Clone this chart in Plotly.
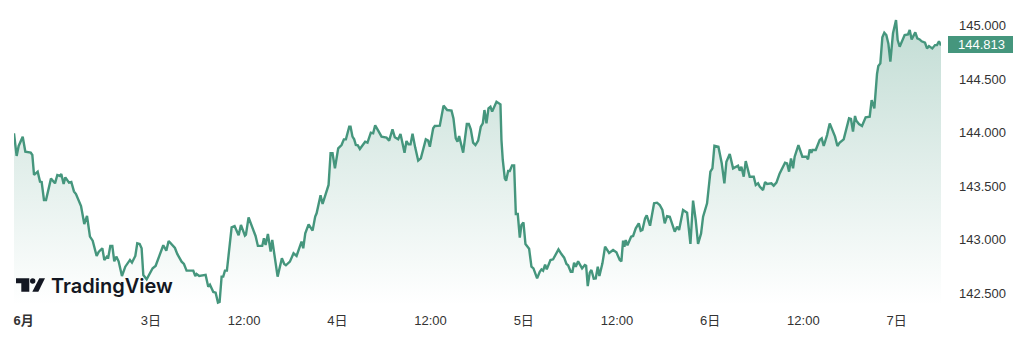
import plotly.graph_objects as go

hours = [-17.63,-17.29,-17.03,-16.51,-16.17,-15.48,-15.27,-15.05,-14.58,-14.28,-14.07,-13.77,-13.51,-12.87,-12.35,-12.05,-11.71,-11.54,-11.24,-11.02,
-10.55,-10.25,-9.91,-9.65,-9.00,-8.58,-8.23,-7.85,-7.50,-6.99,-6.73,-6.26,-6.00,-5.66,-5.49,-5.23,-4.97,-4.72,-4.46,-4.16,
-3.73,-3.30,-2.70,-2.44,-2.01,-1.76,-1.45,-1.20,-0.98,-0.55,0.22,0.60,1.59,1.98,2.28,3.09,3.39,3.95,4.25,4.59,
5.45,5.71,5.88,6.22,7.04,7.38,7.60,8.03,8.33,8.63,8.84,9.10,9.31,9.53,9.78,10.39,10.77,11.29,11.59,12.10,
12.23,12.57,13.47,13.77,14.33,14.55,14.76,15.06,15.41,15.62,16.31,16.86,17.16,17.38,17.89,18.36,18.75,19.39,19.61,19.87,
20.30,20.81,21.15,21.33,21.84,22.10,22.87,23.13,23.38,23.69,24.11,24.54,24.84,25.10,25.53,25.70,25.95,26.17,26.38,26.64,
26.90,27.11,27.58,27.88,28.31,28.61,28.87,29.26,29.69,30.33,30.67,31.10,31.40,31.83,32.13,32.39,32.65,32.90,33.16,33.42,
33.68,34.02,34.41,34.75,35.39,35.69,35.91,36.34,36.55,37.19,37.67,38.14,38.70,38.95,39.25,39.47,39.68,40.20,40.67,40.93,
41.18,41.48,41.78,42.13,42.47,42.73,42.94,43.20,43.46,43.71,43.93,44.49,45.00,45.13,45.30,45.56,45.73,45.99,46.20,46.50,
46.76,46.98,47.23,47.49,47.70,47.96,48.22,48.69,48.99,49.25,49.72,50.06,50.28,50.49,50.75,50.96,51.44,51.78,52.47,52.85,
53.20,53.50,53.71,54.05,54.27,54.48,54.70,55.00,55.51,55.86,56.03,56.24,56.50,56.71,57.01,57.27,57.53,57.74,58.13,58.47,
58.99,59.50,59.93,60.36,60.57,60.79,60.96,61.13,61.35,61.82,62.08,62.42,62.81,63.06,63.28,63.62,63.83,64.26,64.78,65.16,
65.51,65.85,66.15,66.45,66.80,67.44,67.74,68.00,68.51,69.03,69.46,69.80,70.14,70.44,70.83,71.09,71.60,72.03,72.29,72.55,
73.06,73.49,73.83,74.09,74.52,74.95,75.59,75.81,76.02,76.32,76.58,77.09,77.61,77.87,78.17,78.38,78.81,79.07,79.32,79.88,
80.18,80.53,80.95,81.64,81.90,82.16,82.41,82.67,82.88,83.36,83.87,84.39,84.60,84.82,85.03,85.16,85.59,86.10,86.36,86.62,
87.05,87.39,87.82,88.08,88.38,88.68,89.19,89.88,90.13,90.39,90.65,90.82,91.16,91.55,92.02,92.54,92.79,93.14,93.48,93.65,
93.91,94.17,94.42,94.68,94.94,95.20,95.54,95.93,96.14,96.40,97.04,97.47,97.69,97.94,98.41,98.67,98.97,99.23,99.66,99.92,
100.17,100.60,100.95,101.20,101.46,101.72]

prices = [143.992,143.781,143.874,143.961,143.821,143.812,143.790,143.603,143.634,143.541,143.538,143.369,143.369,143.569,143.525,143.603,143.594,143.612,143.519,143.581,
143.531,143.538,143.450,143.425,143.313,143.145,143.220,143.027,142.989,142.846,142.883,142.918,142.809,142.840,142.834,142.940,142.940,142.796,142.840,142.796,
142.659,142.746,142.809,142.784,142.846,142.964,142.958,142.918,142.668,142.628,142.731,142.753,142.946,142.896,142.986,142.921,142.865,142.793,142.771,142.709,
142.709,142.659,142.678,142.659,142.669,142.559,142.578,142.510,142.503,142.410,142.416,142.653,142.653,142.709,142.709,143.114,143.126,143.039,143.136,143.036,
143.045,143.207,143.033,142.940,142.940,143.011,142.949,143.052,142.887,142.996,142.653,142.824,142.771,142.759,142.793,142.871,142.846,142.980,142.918,143.058,
143.142,143.083,143.214,143.245,143.413,143.332,143.510,143.806,143.806,143.665,143.852,143.883,143.936,143.936,144.054,144.054,143.961,143.936,143.883,143.880,
143.846,143.867,143.914,143.905,143.998,143.992,144.067,144.017,143.961,143.952,143.924,144.029,143.955,143.936,143.986,143.899,143.811,143.920,143.889,143.889,
143.989,143.861,143.737,143.758,143.936,143.924,143.867,144.039,144.061,144.064,144.251,144.210,144.204,144.132,143.945,143.914,143.967,143.811,144.079,144.079,
144.029,143.905,143.883,143.924,144.054,144.085,144.210,144.085,144.226,144.241,144.195,144.288,144.263,143.930,143.743,143.572,143.550,143.640,143.640,143.693,
143.693,143.238,143.238,143.017,143.135,143.160,142.958,142.914,142.746,142.730,142.637,142.699,142.721,142.709,142.765,142.721,142.808,142.815,142.908,142.864,
142.830,142.771,142.759,142.699,142.699,142.783,142.746,142.796,142.730,142.762,142.755,142.565,142.690,142.715,142.634,142.637,142.746,142.659,142.777,142.933,
142.874,142.902,142.880,142.808,142.796,142.989,142.933,142.995,142.945,143.026,143.033,143.104,143.151,143.082,143.089,143.198,143.226,143.129,143.338,143.344,
143.322,143.276,143.151,143.219,143.213,143.073,143.120,143.089,143.276,143.251,142.958,143.363,143.182,142.958,143.057,143.213,143.338,143.634,143.665,143.877,
143.867,143.712,143.525,143.727,143.799,143.665,143.690,143.643,143.680,143.587,143.733,143.587,143.587,143.509,143.525,143.494,143.462,143.537,143.519,143.525,
143.503,143.531,143.618,143.718,143.712,143.634,143.758,143.665,143.774,143.883,143.774,143.774,143.749,143.842,143.811,143.836,143.836,143.930,143.945,143.874,
143.976,144.085,144.008,143.961,143.874,143.905,143.936,144.132,144.126,144.008,144.154,144.110,144.079,144.061,144.142,144.148,144.303,144.226,144.546,144.621,
144.646,144.889,144.933,144.911,144.833,144.662,144.927,145.051,144.864,144.802,144.911,144.917,144.958,144.870,144.936,144.880,144.870,144.852,144.839,144.786,
144.808,144.786,144.817,144.817,144.852,144.813]

x_ticks = [-16.4, 0, 12, 24, 36, 48, 60, 72, 84, 96]
x_labels = ["<b>6月</b>", "3日", "12:00", "4日", "12:00", "5日", "12:00", "6日", "12:00", "7日"]
y_ticks = [142.5, 143.0, 143.5, 144.0, 144.5, 145.0]
y_labels = ["142.500", "143.000", "143.500", "144.000", "144.500", "145.000"]
last_label = "144.813"

W, H = 1024, 353
L, R, T, B = 14, 83, 8, 48
GREEN = "#45967d"
TEXT = "#333333"
FONT = "Liberation Sans, 'Noto Sans CJK JP', sans-serif"

def px(v):
    return (v - L) / (W - L - R)

def py(v):
    return 1 - (v - T) / (H - T - B)

y_bottom = 145 - (H - B - 25.5) / 107
y_top = 145 + (25.5 - T) / 107
x_left = hours[0]
x_right = hours[-1]

fig = go.Figure(go.Scatter(
    x=hours, y=prices, mode="lines", fill="tozeroy",
    line=dict(color=GREEN, width=2.4, shape="linear"),
    fillgradient=dict(type="vertical", start=y_bottom, stop=145.0,
                      colorscale=[[0, "rgba(69,150,125,0.0)"], [1, "rgba(69,150,125,0.32)"]]),
    hoverinfo="skip", showlegend=False, cliponaxis=True))

shapes = [
    dict(type="rect", xref="paper", yref="paper", x0=px(948), x1=px(1013), y0=py(53), y1=py(36),
         fillcolor=GREEN, line_width=0, layer="above"),
    dict(type="path", xref="paper", yref="paper", fillcolor="#131722", line_width=0, layer="above",
         path=f"M{px(16)},{py(278.3)} L{px(29.3)},{py(278.3)} L{px(29.3)},{py(291.7)} L{px(21.3)},{py(291.7)} L{px(21.3)},{py(283.3)} L{px(16)},{py(283.3)} Z"),
    dict(type="circle", xref="paper", yref="paper", fillcolor="#131722", line_width=0, layer="above",
         x0=px(30), x1=px(35.4), y0=py(283.7), y1=py(278.3)),
    dict(type="path", xref="paper", yref="paper", fillcolor="#131722", line_width=0, layer="above",
         path=f"M{px(39.3)},{py(278.3)} L{px(45)},{py(278.3)} L{px(38.3)},{py(291.7)} L{px(32.3)},{py(291.7)} Z"),
]

annotations = [
    dict(xref="paper", yref="paper", x=px(956), y=py(44.5), text=last_label, showarrow=False,
         xanchor="left", yanchor="middle", font=dict(family=FONT, size=13, color="#ffffff")),
    dict(xref="paper", yref="paper", x=px(49), y=py(286), text="TradingView", showarrow=False,
         xanchor="left", yanchor="middle", font=dict(family="Inter, sans-serif", size=20, color="#131722", weight=600)),
]

fig.update_layout(
    width=W, height=H, margin=dict(l=L, r=R, t=T, b=B, autoexpand=False),
    paper_bgcolor="#ffffff", plot_bgcolor="#ffffff",
    shapes=shapes, annotations=annotations,
    xaxis=dict(range=[x_left, x_right], tickmode="array", tickvals=x_ticks, ticktext=x_labels,
               showgrid=False, zeroline=False, showline=False, ticks="", ticklabelstandoff=6,
               tickfont=dict(family=FONT, size=13, color=TEXT)),
    yaxis=dict(range=[y_bottom, y_top], side="right", tickmode="array", tickvals=y_ticks, ticktext=y_labels,
               showgrid=False, zeroline=False, showline=False, ticks="", ticklabelstandoff=17,
               tickfont=dict(family=FONT, size=13, color=TEXT)),
)

fig.write_html("out.html", config={"displayModeBar": False},
               post_script="document.body.style.margin='0';document.documentElement.style.overflow='hidden';")
